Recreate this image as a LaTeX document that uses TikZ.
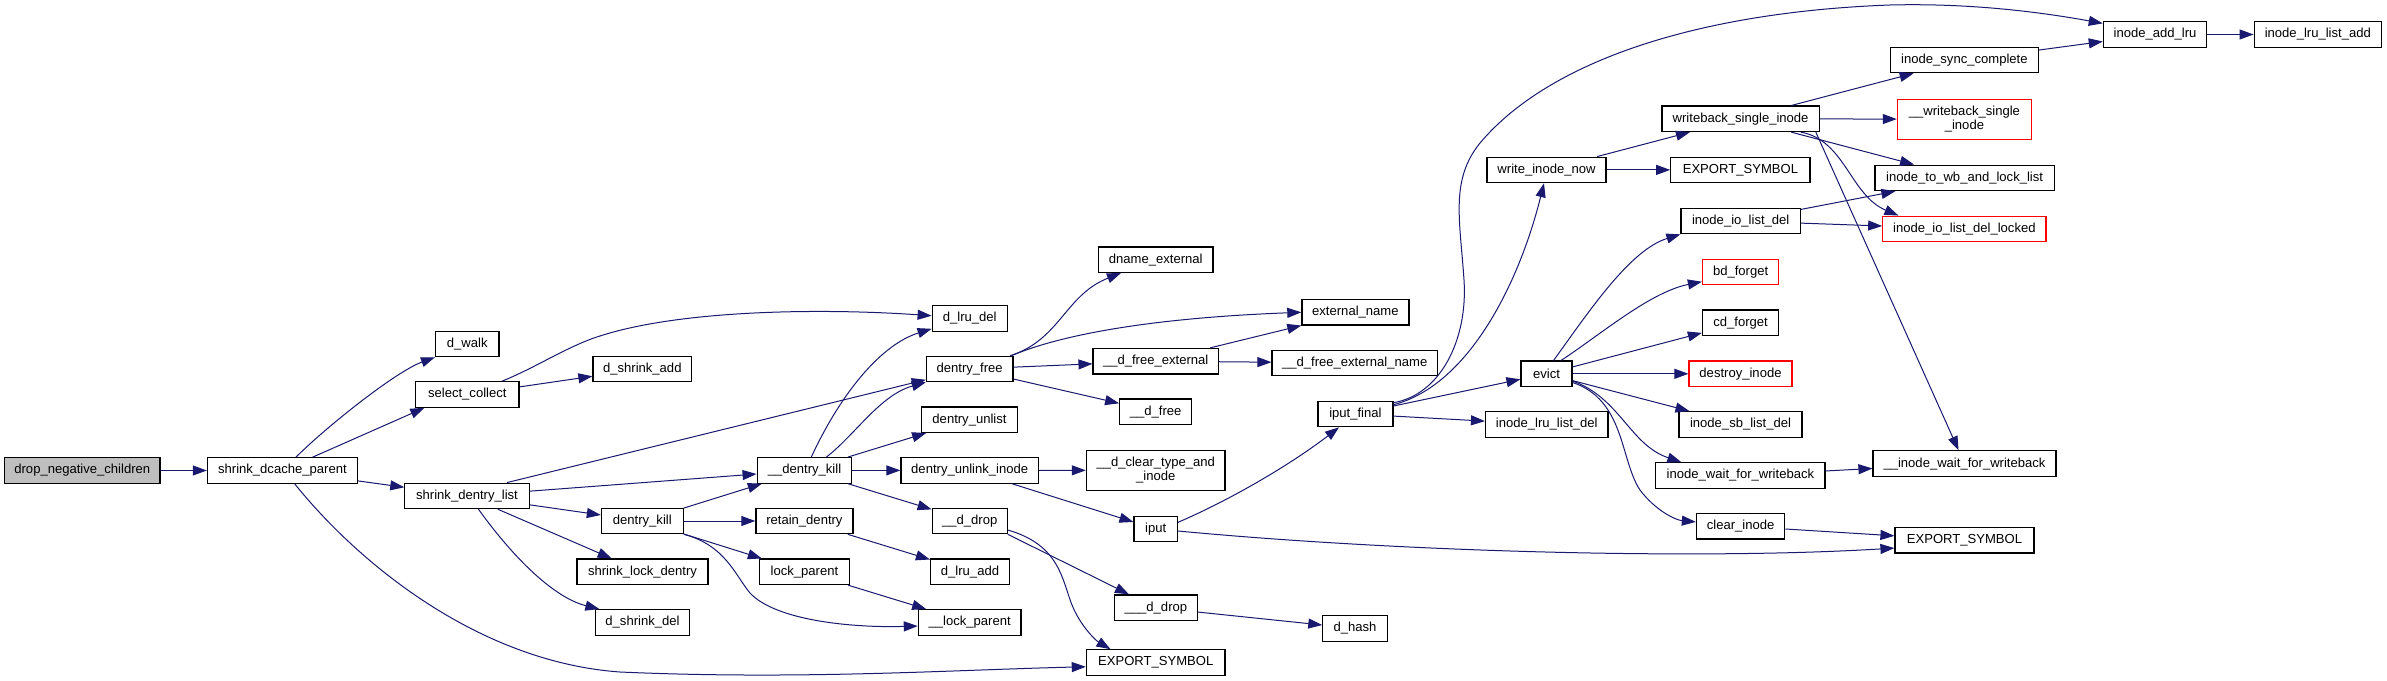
\documentclass[tikz,border=0pt]{standalone}
\usepackage{fontspec}
\setmainfont{Liberation Sans}
\usetikzlibrary{arrows.meta}
\definecolor{edgeblue}{HTML}{191970}
\definecolor{boxgray}{HTML}{BFBFBF}
\begin{document}
\begin{tikzpicture}[x=0.75pt,y=-0.75pt,
  box/.style={draw=black,line width=0.9pt,fill=white,inner sep=0pt,minimum height=19.1pt,align=center,font=\fontsize{9.8pt}{10.5pt}\selectfont},
  redbox/.style={box,draw=red},
  call/.style={draw=edgeblue,line width=0.75pt,-{Triangle[length=10.5pt,width=7.5pt]}}]
\useasboundingbox (0,0) rectangle (2387,681);
\fill[white] (0,0) rectangle (2387,681);
% nodes
\node[box,fill=boxgray,minimum width=116.6pt] (dnc) at (82.3,470.5) {drop\_negative\_children};
\node[box,minimum width=112.5pt] (sdp) at (282.4,470.5) {shrink\_dcache\_parent};
\node[box,minimum width=47.6pt] (dwalk) at (467.3,343.9) {d\_walk};
\node[box,minimum width=77.5pt] (selc) at (467.3,394.5) {select\_collect};
\node[box,minimum width=93.2pt] (sdl) at (467,495.9) {shrink\_dentry\_list};
\node[box,minimum width=74pt] (dshrinkadd) at (642.3,369) {d\_shrink\_add};
\node[box,minimum width=56.25pt] (dlrudel) at (969.7,318.4) {d\_lru\_del};
\node[box,minimum width=86pt] (dnameext) at (1155.7,259.7) {dname\_external};
\node[box,minimum width=65pt] (dfree) at (969.7,369) {dentry\_free};
\node[box,minimum width=94pt] (dfreeext) at (1155.7,361.2) {\_\_d\_free\_external};
\node[box,minimum width=54pt] (ddfree) at (1155.7,411.7) {\_\_d\_free};
\node[box,minimum width=72pt] (dunlist) at (969.5,419.7) {dentry\_unlist};
\node[box,minimum width=71pt] (dkilltwo) at (804.5,470.4) {\_\_dentry\_kill};
\node[box,minimum width=103.1pt] (dunlink) at (969.7,470.4) {dentry\_unlink\_inode};
\node[box,minimum width=104pt,minimum height=30pt] (dclear) at (1155.7,470.3) {\_\_d\_clear\_type\_and\\\_inode};
\node[box,minimum width=61.3pt] (dkill) at (642.3,521) {dentry\_kill};
\node[box,minimum width=72.75pt] (retain) at (804.4,521) {retain\_dentry};
\node[box,minimum width=56.25pt] (ddrop) at (969.7,521) {\_\_d\_drop};
\node[box,minimum width=32.5pt] (iput) at (1155.7,529) {iput};
\node[box,minimum width=98.25pt] (sld) at (642.5,571.8) {shrink\_lock\_dentry};
\node[box,minimum width=67.3pt] (lockp) at (804.4,571.8) {lock\_parent};
\node[box,minimum width=59.25pt] (dlruadd) at (970,571.8) {d\_lru\_add};
\node[box,minimum width=71pt] (dshrinkdel) at (642.5,622.4) {d\_shrink\_del};
\node[box,minimum width=77pt] (lockptwo) at (969.7,622.4) {\_\_lock\_parent};
\node[box,minimum width=62.25pt] (dddrop) at (1155.9,607.7) {\_\_\_d\_drop};
\node[box,minimum width=104pt] (expa) at (1155.7,662.5) {EXPORT\_SYMBOL};
\node[box,minimum width=80.25pt] (extname) at (1355.4,312.3) {external\_name};
\node[box,minimum width=124pt] (dfreeextname) at (1354.7,362.9) {\_\_d\_free\_external\_name};
\node[box,minimum width=56.25pt] (iputfinal) at (1355.4,414) {iput\_final};
\node[box,minimum width=48.2pt] (dhash) at (1355,628.4) {d\_hash};
\node[box,minimum width=89.25pt] (winow) at (1546.5,169.9) {write\_inode\_now};
\node[box,minimum width=91.9pt] (ilrudel) at (1546.8,424.5) {inode\_lru\_list\_del};
\node[box,minimum width=38.25pt] (evict) at (1546.5,373.8) {evict};
\node[box,minimum width=117.9pt] (wbsi) at (1740.6,118.8) {writeback\_single\_inode};
\node[box,minimum width=104.5pt] (expb) at (1740.4,169.9) {EXPORT\_SYMBOL};
\node[box,minimum width=89.6pt] (iiold) at (1740.7,221) {inode\_io\_list\_del};
\node[redbox,minimum width=57.2pt] (bdf) at (1740.6,272) {bd\_forget};
\node[box,minimum width=57.2pt] (cdf) at (1740.6,322.7) {cd\_forget};
\node[redbox,minimum width=77.25pt] (destroy) at (1740.5,373.8) {destroy\_inode};
\node[box,minimum width=92.25pt] (isld) at (1740.5,424.5) {inode\_sb\_list\_del};
\node[box,minimum width=126.9pt] (iwfw) at (1740.4,475.5) {inode\_wait\_for\_writeback};
\node[box,minimum width=66.3pt] (clearinode) at (1740.6,526.2) {clear\_inode};
\node[box,minimum width=77.5pt] (iaddlru) at (2155,34.5) {inode\_add\_lru};
\node[box,minimum width=95.5pt] (ilrulistadd) at (2317.8,34.5) {inode\_lru\_list\_add};
\node[box,minimum width=111.2pt] (isync) at (1964.4,60) {inode\_sync\_complete};
\node[redbox,minimum width=100.6pt,minimum height=30pt] (wbsitwo) at (1964.4,119.2) {\_\_writeback\_single\\\_inode};
\node[box,minimum width=134.5pt] (itowb) at (1964.6,177.9) {inode\_to\_wb\_and\_lock\_list};
\node[redbox,minimum width=122.5pt] (iioldl) at (1964.4,228.9) {inode\_io\_list\_del\_locked};
\node[box,minimum width=137.25pt] (iiwfw) at (1964.5,463.6) {\_\_inode\_wait\_for\_writeback};
\node[box,minimum width=104.25pt] (expc) at (1964.5,540.2) {EXPORT\_SYMBOL};
% edges
\draw[call] (dnc) -- (sdp);
\draw[call] ([xshift=10.2pt]sdp.north) .. controls (325,428) and (395,372) .. (dwalk.south west);
\draw[call] (sdp) -- ([xshift=7pt]selc.south west);
\draw[call] (sdp) -- (sdl);
\draw[call] ([xshift=9.2pt]sdp.south) .. controls (360,565) and (480,662) .. (620,672) .. controls (800,680) and (950,670) .. ([yshift=-3.2pt]expa.west);
\draw[call] ([xshift=-13.2pt]selc.north east) .. controls (535,368) and (570,345) .. (600,336) .. controls (680,310) and (820,308) .. ([yshift=2pt]dlrudel.west);
\draw[call] (selc) -- (dshrinkadd);
\draw[call] ([xshift=30pt]sdl.north) -- (dfree);
\draw[call] (sdl) -- (dkilltwo);
\draw[call] (sdl) -- ([yshift=4.5pt]dkill.west);
\draw[call] (sdl) -- (sld);
\draw[call] ([xshift=8.6pt]sdl.south) .. controls (515,560) and (555,598) .. ([xshift=3.6pt]dshrinkdel.north west);
\draw[call] ([xshift=5.1pt]dkilltwo.north) .. controls (840,395) and (880,345) .. ([yshift=2.2pt]dlrudel.south west);
\draw[call] ([xshift=16.4pt]dkilltwo.north) .. controls (855,435) and (880,395) .. (dfree.south west);
\draw[call] (dkilltwo) -- (dunlist);
\draw[call] (dkilltwo) -- (dunlink);
\draw[call] (dkilltwo) -- (ddrop);
\draw[call] (dkill) -- (dkilltwo);
\draw[call] (dkill) -- (retain);
\draw[call] (dkill) -- (lockp);
\draw[call] (dkill.south east) .. controls (725,545) and (735,575) .. (750,593) .. controls (775,620) and (850,628) .. ([yshift=-2.7pt]lockptwo.west);
\draw[call] (retain) -- (dlruadd);
\draw[call] (lockp) -- (lockptwo);
\draw[call] ([xshift=-2.6pt]dfree.north east) .. controls (1060,340) and (1065,295) .. ([xshift=17.4pt]dnameext.south west);
\draw[call] ([xshift=-1.6pt]dfree.north east) .. controls (1060,335) and (1150,318) .. (extname.west);
\draw[call] (dfree) -- (dfreeext);
\draw[call] (dfree) -- (ddfree);
\draw[call] (dfreeext) -- (extname);
\draw[call] (dfreeext) -- (dfreeextname);
\draw[call] (dunlink) -- (dclear);
\draw[call] (dunlink) -- (iput);
\draw[call] (ddrop.south east) -- (dddrop);
\draw[call] ([yshift=-6.75pt]ddrop.east) .. controls (1060,545) and (1062,580) .. (1072,605) .. controls (1080,625) and (1095,640) .. ([xshift=18.5pt]expa.north west);
\draw[call] (dddrop) -- (dhash);
\draw[call] ([yshift=5pt]iput.east) .. controls (1230,500) and (1290,465) .. ([xshift=-12.3pt]iputfinal.south);
\draw[call] ([yshift=-1.5pt]iput.east) .. controls (1400,552) and (1700,560) .. ([yshift=-5.9pt]expc.west);
\draw[call] ([yshift=-1.5pt]iputfinal.north east) .. controls (1440,395) and (1468,340) .. (1464,280) .. controls (1460,220) and (1450,180) .. (1480,143) .. controls (1550,60) and (1700,12) .. (1890,5) .. controls (1970,3) and (2040,12) .. ([yshift=-1.65pt]iaddlru.north west);
\draw[call] ([yshift=-3pt]iputfinal.north east) .. controls (1470,385) and (1520,280) .. ([xshift=-1.9pt]winow.south);
\draw[call] (iputfinal) -- (evict);
\draw[call] (iputfinal) -- (ilrudel);
\draw[call] (winow) -- (wbsi);
\draw[call] (winow) -- (expb);
\draw[call] (wbsi) -- (isync);
\draw[call] (wbsi) -- (wbsitwo);
\draw[call] (wbsi) -- (itowb);
\draw[call] ([xshift=-14.3pt]wbsi.south east) .. controls (1845,140) and (1850,195) .. ([xshift=12.2pt]iioldl.north west);
\draw[call] ([xshift=-3pt]wbsi.south east) -- (iiwfw);
\draw[call] (isync) -- (iaddlru);
\draw[call] (iaddlru) -- (ilrulistadd);
\draw[call] (iiold) -- (itowb);
\draw[call] (iiold) -- (iioldl);
\draw[call] ([xshift=5.3pt]evict.north) .. controls (1590,310) and (1630,250) .. (iiold.south west);
\draw[call] ([xshift=10.9pt]evict.north) .. controls (1600,335) and (1650,292) .. ([yshift=-7.3pt]bdf.west);
\draw[call] (evict) -- (cdf);
\draw[call] (evict) -- (destroy);
\draw[call] (evict) -- (isld);
\draw[call] ([yshift=-5.4pt]evict.east) .. controls (1620,398) and (1630,445) .. ([xshift=19.6pt]iwfw.north west);
\draw[call] ([yshift=-6.5pt]evict.east) .. controls (1625,400) and (1620,460) .. (1640,490) .. controls (1655,510) and (1675,520) .. ([yshift=3.2pt]clearinode.west);
\draw[call] (iwfw) -- (iiwfw);
\draw[call] (clearinode) -- (expc);
\end{tikzpicture}
\end{document}
